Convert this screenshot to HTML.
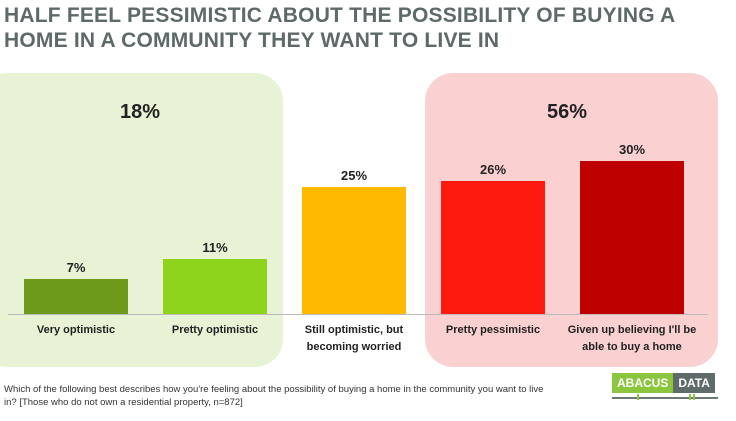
<!DOCTYPE html><html><head><style>
body{margin:0;width:736px;height:421px;background:#fff;font-family:"Liberation Sans",sans-serif;position:relative;overflow:hidden}
.a{position:absolute}
.t{left:4px;font-weight:bold;font-size:21px;color:#5d6a69;letter-spacing:0.2px;white-space:nowrap}
.bar{position:absolute;width:104px}
.v{position:absolute;width:104px;text-align:center;font-weight:bold;font-size:13px;color:#222}
.l{position:absolute;width:140px;text-align:center;font-weight:bold;font-size:11px;color:#222;line-height:17px}
</style></head><body>
<div class="a t" style="top:4px">HALF FEEL PESSIMISTIC ABOUT THE POSSIBILITY OF BUYING A</div>
<div class="a t" style="top:29px">HOME IN A COMMUNITY THEY WANT TO LIVE IN</div>
<div class="a" style="left:-20px;top:73px;width:303px;height:294px;background:#e8f3d6;border-radius:28px"></div>
<div class="a" style="left:425px;top:73px;width:293px;height:294px;background:#fbd0d0;border-radius:28px"></div>
<div class="a" style="left:100px;top:101px;width:80px;text-align:center;font-weight:bold;font-size:20px;color:#222">18%</div>
<div class="a" style="left:527px;top:101px;width:80px;text-align:center;font-weight:bold;font-size:20px;color:#222">56%</div>
<div class="bar" style="left:24px;top:279px;height:35px;background:#6e9a1c"></div>
<div class="bar" style="left:163px;top:259px;height:55px;background:#8fd41c"></div>
<div class="bar" style="left:302px;top:187px;height:127px;background:#ffba00"></div>
<div class="bar" style="left:441px;top:181px;height:133px;background:#ff1a10"></div>
<div class="bar" style="left:580px;top:161px;height:153px;background:#bf0000"></div>
<div class="a" style="left:8px;top:314px;width:700px;height:1px;background:#bbb"></div>
<div class="v" style="left:24px;top:260px">7%</div>
<div class="v" style="left:163px;top:240px">11%</div>
<div class="v" style="left:302px;top:168px">25%</div>
<div class="v" style="left:441px;top:162px">26%</div>
<div class="v" style="left:580px;top:142px">30%</div>
<div class="l" style="left:6px;top:322px">Very optimistic</div>
<div class="l" style="left:145px;top:322px">Pretty optimistic</div>
<div class="l" style="left:284px;top:322px">Still optimistic, but<br>becoming worried</div>
<div class="l" style="left:423px;top:322px">Pretty pessimistic</div>
<div class="l" style="left:557px;top:322px;width:150px">Given up believing I'll be<br>able to buy a home</div>
<div class="a" style="left:4px;top:383px;width:548px;font-size:9.5px;color:#333;line-height:13px">Which of the following best describes how you're feeling about the possibility of buying a home in the community you want to live in? [Those who do not own a residential property, n=872]</div>
<div class="a" style="left:612px;top:373px;height:20px;display:flex;font-weight:bold;font-size:12px;color:#fff;line-height:20px">
<div style="background:#8cc63f;padding:0 5px">ABACUS</div><div style="background:#5f6b6b;padding:0 5px">DATA</div></div>
<div class="a" style="left:612px;top:397px;width:106px;height:2px;background:#6b7878"></div>
<div class="a" style="left:637px;top:394px;width:2px;height:6px;background:#8cc63f"></div>
<div class="a" style="left:689px;top:394px;width:2px;height:6px;background:#8cc63f"></div>
<div class="a" style="left:693px;top:394px;width:2px;height:6px;background:#8cc63f"></div>
</body></html>
